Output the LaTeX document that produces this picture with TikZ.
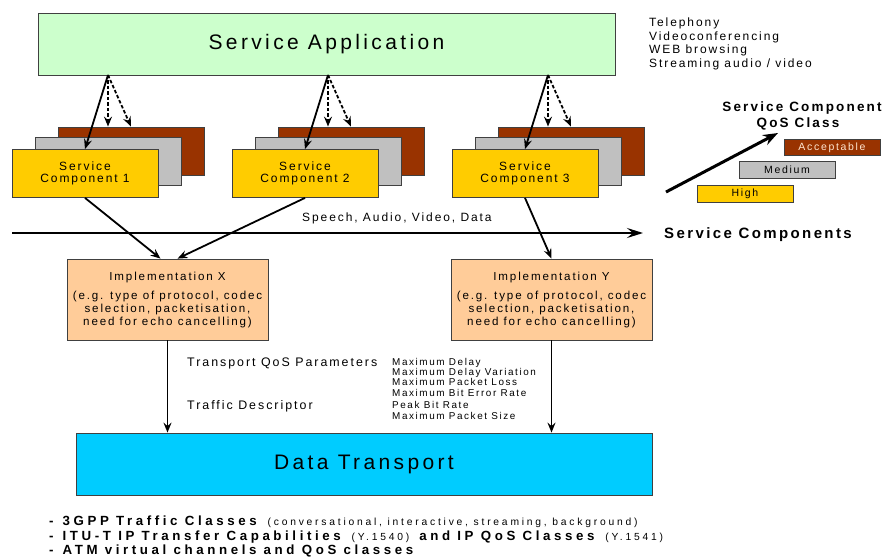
\documentclass[tikz,border=0pt]{standalone}
\usepackage{fontspec}
\setmainfont{Liberation Sans}[LetterSpace=16]
\newfontfamily\widesans{Liberation Sans}[LetterSpace=27]
\usetikzlibrary{arrows.meta}

\definecolor{appgreen}{HTML}{CCFFCC}
\definecolor{compbrown}{HTML}{993300}
\definecolor{compgray}{HTML}{C0C0C0}
\definecolor{compyellow}{HTML}{FFCC00}
\definecolor{implorange}{HTML}{FFCC99}
\definecolor{dtcyan}{HTML}{00CCFF}
\definecolor{edge}{HTML}{404040}
\definecolor{paletext}{HTML}{FFE6D0}

% smaller type for the parenthetical remarks
\newcommand\remarksize{\fontsize{10.3}{12}\selectfont}

\begin{document}
\begin{tikzpicture}[x=1pt,y=-1pt,
  box/.style={draw=edge, line width=0.8pt, inner sep=0pt},
  big/.style={font=\fontsize{21}{25}\selectfont},
  mid/.style={font=\fontsize{12}{12.5}\selectfont},
  impl/.style={font=\fontsize{11.6}{13}\selectfont},
  small/.style={font=\fontsize{9.9}{11}\selectfont},
  lbl/.style={inner sep=0pt, anchor=base west},
  tip/.style={-{Stealth[length=10pt,width=8pt,inset=3.5pt]}},
  conn/.style={line width=1.8pt, tip},
  dconn/.style={conn, dash pattern=on 3.5pt off 2pt},
  compbox/.style={box, minimum width=146pt, minimum height=48pt},
  classbox/.style={box, minimum width=96pt, minimum height=16.5pt, font=\fontsize{10.5}{12}\selectfont},
  techline/.style={lbl, font=\widesans\fontsize{13.3}{14}\selectfont}
]
\useasboundingbox (0,0) rectangle (884,559);

% application layer
\node[box, big, fill=appgreen, minimum width=577pt, minimum height=62pt] (sa) at (326.5,44) {Service Application};

% example applications
\foreach \n/\t/\yy in {1/Telephony/27, 2/Videoconferencing/40.5, 3/WEB browsing/54, 4/{Streaming audio / video}/67.5}
  \node[lbl, mid] (app\n) at (649,\yy) {\t};

% stacked service components
\foreach \i/\x in {1/85, 2/305, 3/525}{
  \node[compbox, fill=compbrown] (b\i) at (\x+46,151) {};
  \node[compbox, fill=compgray] (g\i) at (\x+23,161) {};
  \node[compbox, fill=compyellow, mid, align=center] (y\i) at (\x,173.5) {Service\\Component \i};
}

% arrows from the application to the components
\coordinate (o1) at (108,75);
\coordinate (o2) at (328,75);
\coordinate (o3) at (548,75);
\foreach \i in {1,2,3}{
  \draw[conn] (o\i) -- (y\i.north);
  \draw[dconn] (o\i) -- (o\i |- b\i.north);
  \draw[dconn] (o\i) -- (b\i.north);
}

% service components axis
\coordinate (hl) at (12,233);
\coordinate (hr) at (643,233);
\draw[line width=2.6pt, -{Stealth[length=16pt,width=10pt,inset=6pt]}] (hl) -- (hr);
\node[lbl, mid] (media) at (302,221) {Speech, Audio, Video, Data};
\node[lbl, font=\fontsize{15}{16}\selectfont\bfseries] (sclabel) at (664,238.5) {Service Components};

% QoS class legend
\node[inner sep=0pt, anchor=base, font=\fontsize{13.5}{15}\selectfont\bfseries] (qh1) at (802,112) {Service Component};
\node[inner sep=0pt, anchor=base, font=\fontsize{13.5}{15}\selectfont\bfseries] (qh2) at (798,127.5) {QoS Class};
\node[classbox, fill=compbrown, text=paletext] (acc) at (832,147.5) {Acceptable};
\node[classbox, fill=compgray] (med) at (787,170) {Medium};
\node[classbox, fill=compyellow] (high) at (745,194) {High};
\coordinate (qa) at (666,192);
\coordinate (qb) at (778,133);
\draw[line width=3pt, -{Stealth[length=15pt,width=11pt,inset=5pt]}] (qa) -- (qb);

% implementations
\node[box, fill=implorange, minimum width=201pt, minimum height=81pt, align=center, impl] (ix) at (167.5,299.5)
  {Implementation X\\[6pt](e.g. type of protocol, codec\\selection, packetisation,\\need for echo cancelling)};
\node[box, fill=implorange, minimum width=201pt, minimum height=81pt, align=center, impl] (iy) at (551.5,299.5)
  {Implementation Y\\[6pt](e.g. type of protocol, codec\\selection, packetisation,\\need for echo cancelling)};

\draw[conn] (y1.south) -- ([xshift=-7pt]ix.north);
\draw[conn] (y2.south) -- ([xshift=10pt]ix.north);
\draw[conn] (y3.south) -- (iy.north);

% transport
\node[box, big, fill=dtcyan, minimum width=576pt, minimum height=62pt] (dt) at (364,464) {Data Transport};
\draw[conn] (ix.south) -- (ix.south |- dt.north);
\draw[conn] (iy.south) -- (iy.south |- dt.north);

% parameters passed to the transport
\node[lbl, font=\fontsize{12.4}{13}\selectfont] (tqp) at (187,366) {Transport QoS Parameters};
\node[lbl, font=\fontsize{12.4}{13}\selectfont] (tdesc) at (187,409) {Traffic Descriptor};
\foreach \n/\t/\yy in {1/Maximum Delay/365.5, 2/Maximum Delay Variation/375.5, 3/Maximum Packet Loss/385.5,
                       4/Maximum Bit Error Rate/396.5, 5/Peak Bit Rate/408.5, 6/Maximum Packet Size/419.5}
  \node[lbl, small] (par\n) at (392,\yy) {\t};

% transport technologies
\node[techline] (tech1) at (49,525.5)
  {\textbf{-\hspace{9pt}3GPP Traffic Classes} {\remarksize(conversational, interactive, streaming, background)}};
\node[techline] (tech2) at (49,540.5)
  {\textbf{-\hspace{9pt}ITU-T IP Transfer Capabilities} {\remarksize(Y.1540)} \textbf{and IP QoS Classes} {\remarksize(Y.1541)}};
\node[techline] (tech3) at (49,554.5)
  {\textbf{-\hspace{9pt}ATM virtual channels and QoS classes}};
\end{tikzpicture}
\end{document}
